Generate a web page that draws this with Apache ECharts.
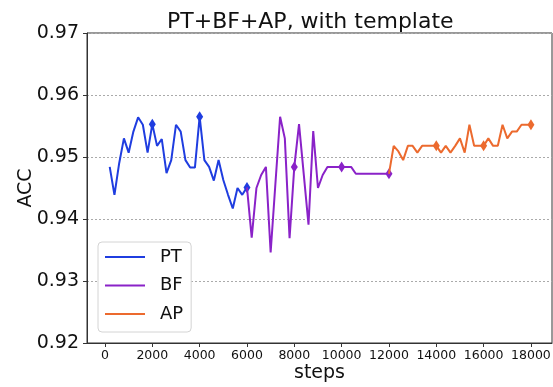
<!DOCTYPE html>
<html>
<head>
<meta charset="utf-8">
<script src="https://cdn.jsdelivr.net/npm/echarts@6/dist/echarts.min.js"></script>
<style>
html,body{margin:0;padding:0;background:#fff;}
#c{width:553px;height:387px;}
</style>
</head>
<body>
<div id="c"></div>
<script>
var titleText = 'PT+BF+AP, with template';
var seriesNames = ['PT', 'BF', 'AP'];
var xTicks = [0, 2000, 4000, 6000, 8000, 10000, 12000, 14000, 16000, 18000];
var yTicks = [0.92, 0.93, 0.94, 0.95, 0.96, 0.97];

var ptSteps = [200,400,600,800,1000,1200,1400,1600,1800,2000,2200,2400,2600,2800,3000,3200,3400,3600,3800,4000,4200,4400,4600,4800,5000,5200,5400,5600,5800,6000];
var ptAcc = [0.9484,0.9439,0.9490,0.9530,0.9507,0.9541,0.9564,0.9552,0.9507,0.9553,
             0.9518,0.9529,0.9474,0.9495,0.9552,0.9541,0.9495,0.9483,0.9483,0.9565,
             0.9495,0.9484,0.9462,0.9495,0.9463,0.9439,0.9417,0.9450,0.9439,0.9451];
var ptMarkers = [2000, 4000, 6000];

var bfSteps = [6000,6200,6400,6600,6800,7000,7200,7400,7600,7800,8000,8200,8400,8600,8800,9000,9200,9400,9600,9800,10000,10200,10400,10600,10800,11000,11200,11400,11600,11800,12000];
var bfAcc = [0.9451,0.9370,0.9450,0.9471,0.9484,0.9346,0.9456,0.9565,0.9530,0.9369,
             0.9484,0.9553,0.9472,0.9391,0.9542,0.9450,0.9471,0.9484,0.9484,0.9484,
             0.9484,0.9484,0.9484,0.9473,0.9473,0.9473,0.9473,0.9473,0.9473,0.9473,0.9473];
var bfMarkers = [8000, 10000, 12000];

var apSteps = [12000,12200,12400,12600,12800,13000,13200,13400,13600,13800,14000,14200,14400,14600,14800,15000,15200,15400,15600,15800,16000,16200,16400,16600,16800,17000,17200,17400,17600,17800,18000];
var apAcc = [0.9473,0.9518,0.9509,0.9495,0.9518,0.9518,0.9507,0.9518,0.9518,0.9518,
             0.9518,0.9507,0.9518,0.9507,0.9518,0.9530,0.9507,0.9552,0.9518,0.9518,
             0.9518,0.9530,0.9518,0.9518,0.9552,0.9530,0.9541,0.9541,0.9552,0.9552,0.9552];
var apMarkers = [14000, 16000, 18000];

var colors = ['#1f3de0', '#8a22c8', '#ec6a2e'];
var FONT = 'DejaVu Sans';

function build(steps, acc, markers) {
  return steps.map(function (s, i) {
    if (markers.indexOf(s) >= 0) {
      return { value: [s, acc[i]], symbol: 'diamond', symbolSize: [7, 11] };
    }
    return { value: [s, acc[i]], symbol: 'none' };
  });
}

var stepsList = [ptSteps, bfSteps, apSteps];
var accList = [ptAcc, bfAcc, apAcc];
var markList = [ptMarkers, bfMarkers, apMarkers];

var series = seriesNames.map(function (n, k) {
  return {
    name: n,
    type: 'line',
    data: build(stepsList[k], accList[k], markList[k]),
    showSymbol: true,
    showAllSymbol: true,
    lineStyle: { color: colors[k], width: 2 },
    itemStyle: { color: colors[k] },
    emphasis: { disabled: true },
    animation: false,
    z: 2 + k
  };
});

var chart = echarts.init(document.getElementById('c'), null, { renderer: 'canvas' });
chart.setOption({
  animation: false,
  backgroundColor: '#fff',
  textStyle: { fontFamily: FONT },
  title: {
    text: titleText,
    left: 162,
    top: 6,
    textStyle: { fontFamily: FONT, fontSize: 22, fontWeight: 'normal', color: '#111' }
  },
  grid: {
    left: 87, right: 1, top: 33, bottom: 44,
    containLabel: false,
    outerBoundsMode: 'none',
    show: true, borderColor: '#333', borderWidth: 1, backgroundColor: 'transparent'
  },
  legend: {
    data: seriesNames.map(function (n, k) { return { name: n, itemStyle: { color: colors[k] } }; }),
    orient: 'vertical',
    left: 98, top: 242,
    padding: [5, 8, 8, 7],
    itemWidth: 40, itemHeight: 2,
    itemGap: 8.5,
    icon: 'rect',
    backgroundColor: '#fff',
    borderColor: '#d4d4d4', borderWidth: 1, borderRadius: 4,
    textStyle: { fontFamily: FONT, fontSize: 18, color: '#111', lineHeight: 20, padding: [0, 0, 0, 10] }
  },
  xAxis: {
    type: 'value',
    min: -760, max: 18890,
    name: 'steps',
    nameLocation: 'middle',
    nameGap: 21,
    nameMoveOverlap: false,
    nameTextStyle: { fontFamily: FONT, fontSize: 19, color: '#111' },
    axisLine: { show: true, onZero: false, lineStyle: { color: '#333', width: 1 } },
    axisTick: { show: true, inside: false, length: 4, customValues: xTicks, lineStyle: { color: '#333' } },
    axisLabel: {
      customValues: xTicks, margin: 6, fontFamily: FONT, fontSize: 12.5, color: '#111',
      formatter: function (v) { return String(Math.round(v)); }
    },
    splitLine: { show: false }
  },
  yAxis: {
    type: 'value',
    min: 0.92, max: 0.97, interval: 0.01,
    name: 'ACC',
    nameLocation: 'middle',
    nameGap: 51,
    nameMoveOverlap: false,
    nameRotate: 90,
    nameTextStyle: { fontFamily: FONT, fontSize: 19, color: '#111' },
    axisLine: { show: true, onZero: false, lineStyle: { color: '#333', width: 1 } },
    axisTick: { show: true, inside: false, length: 4, lineStyle: { color: '#333' } },
    axisLabel: {
      margin: 8, fontFamily: FONT, fontSize: 19, color: '#111',
      formatter: function (v) { return v.toFixed(2); }
    },
    splitLine: { show: true, lineStyle: { color: '#aaa', type: [2, 2], width: 1 } }
  },
  series: series
});
</script>
</body>
</html>
